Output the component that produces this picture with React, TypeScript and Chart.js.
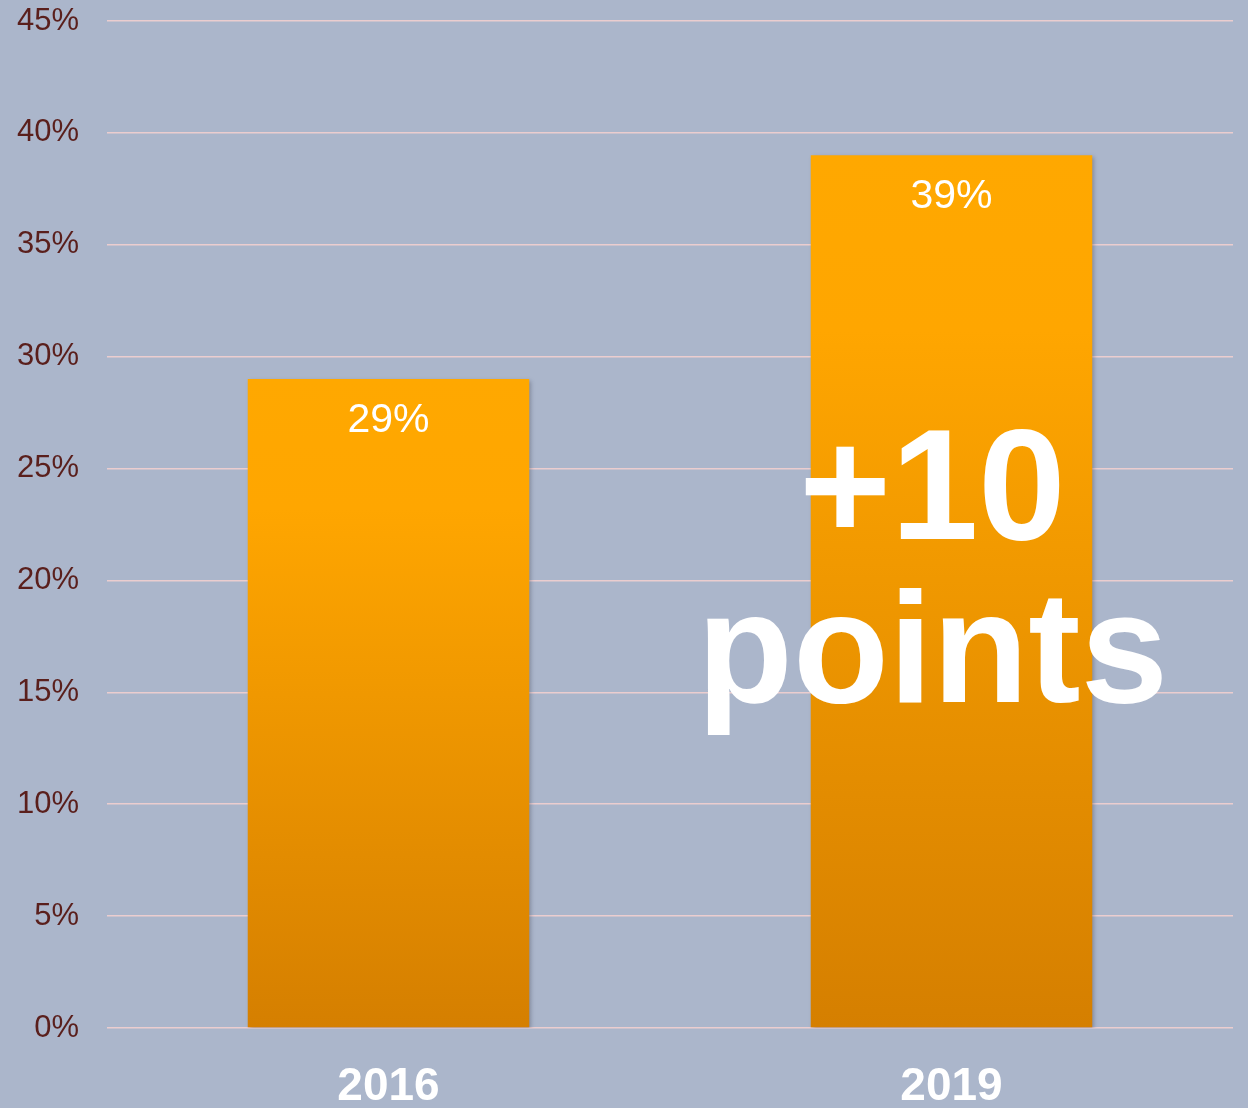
import React, { useEffect, useRef } from "react";
import { Chart, registerables } from "chart.js";

Chart.register(...registerables);

const categories = ["2016", "2019"];
const shares = [29, 39];
const yTicks = [0, 5, 10, 15, 20, 25, 30, 35, 40, 45];
const annotationLines = ["+10", "points"];

const FONT = '"Liberation Sans", Arial, sans-serif';

export default function App() {
  const ref = useRef<HTMLCanvasElement | null>(null);

  useEffect(() => {
    const canvas = ref.current;
    if (!canvas) return;

    const shadowPlugin = {
      id: "barShadow",
      beforeDatasetsDraw(chart: any) {
        const ctx = chart.ctx;
        ctx.save();
        ctx.shadowColor = "rgba(60,60,80,0.35)";
        ctx.shadowBlur = 4;
        ctx.shadowOffsetX = 2;
        ctx.shadowOffsetY = 2;
      },
      afterDatasetsDraw(chart: any) {
        chart.ctx.restore();
      },
    };

    const labelPlugin = {
      id: "labels",
      afterDatasetsDraw(chart: any) {
        const ctx = chart.ctx;
        const meta = chart.getDatasetMeta(0);
        ctx.save();
        ctx.fillStyle = "#ffffff";
        ctx.textAlign = "center";
        ctx.textBaseline = "alphabetic";
        ctx.font = `41px ${FONT}`;
        meta.data.forEach((bar: any, i: number) => {
          ctx.fillText(`${shares[i]}%`, bar.x, bar.y + 53);
        });
        // annotation
        const bar2 = meta.data[1];
        const yScale = chart.scales.y;
        ctx.font = `bold 157px ${FONT}`;
        const cx = bar2.x - 19;
        ctx.fillText(annotationLines[0], cx, yScale.getPixelForValue(21.85));
        ctx.fillText(annotationLines[1], cx, yScale.getPixelForValue(14.55));
        ctx.restore();
      },
    };

    const chart = new Chart(canvas, {
      type: "bar",
      data: {
        labels: categories,
        datasets: [
          {
            data: shares,
            backgroundColor: (c: any) => {
              const ch = c.chart;
              const area = ch.chartArea;
              if (!area || !ch.scales.y) return "#F0A000";
              const yTop = ch.scales.y.getPixelForValue(c.raw ?? 0);
              const g = ch.ctx.createLinearGradient(0, yTop, 0, area.bottom);
              g.addColorStop(0, "#FFA800");
              g.addColorStop(0.2, "#FFA600");
              g.addColorStop(1, "#D57F00");
              return g;
            },
            borderWidth: 0,
            categoryPercentage: 1,
            barPercentage: 0.5,
          },
        ],
      },
      options: {
        animation: false,
        responsive: true,
        maintainAspectRatio: false,
        layout: { padding: { top: 21, right: 15, left: 0, bottom: 0 } },
        plugins: {
          legend: { display: false },
          tooltip: { enabled: false },
        },
        scales: {
          x: {
            grid: { display: false, drawTicks: false },
            border: { display: false },
            ticks: {
              color: "#ffffff",
              font: { family: FONT, size: 46, weight: "bold" },
              padding: 32,
            },
            afterFit: (s: any) => {
              s.height = 80;
            },
          },
          y: {
            min: 0,
            max: 45,
            afterBuildTicks: (s: any) => {
              s.ticks = yTicks.map((v) => ({ value: v }));
            },
            grid: { color: "#EBCDCF", lineWidth: 1.5, drawTicks: false },
            border: { display: false },
            ticks: {
              color: "#5A1F1C",
              font: { family: FONT, size: 31 },
              padding: 28,
              callback: (v: any) => `${v}%`,
            },
            afterFit: (s: any) => {
              s.width = 107;
              s.paddingTop = 0;
              s.paddingBottom = 0;
            },
          },
        },
      },
      plugins: [shadowPlugin, labelPlugin],
    } as any);

    return () => chart.destroy();
  }, []);

  return (
    <div
      style={{
        position: "absolute",
        left: 0,
        top: 0,
        width: 1248,
        height: 1108,
        background: "#ABB6CB",
      }}
    >
      <canvas ref={ref} />
    </div>
  );
}
